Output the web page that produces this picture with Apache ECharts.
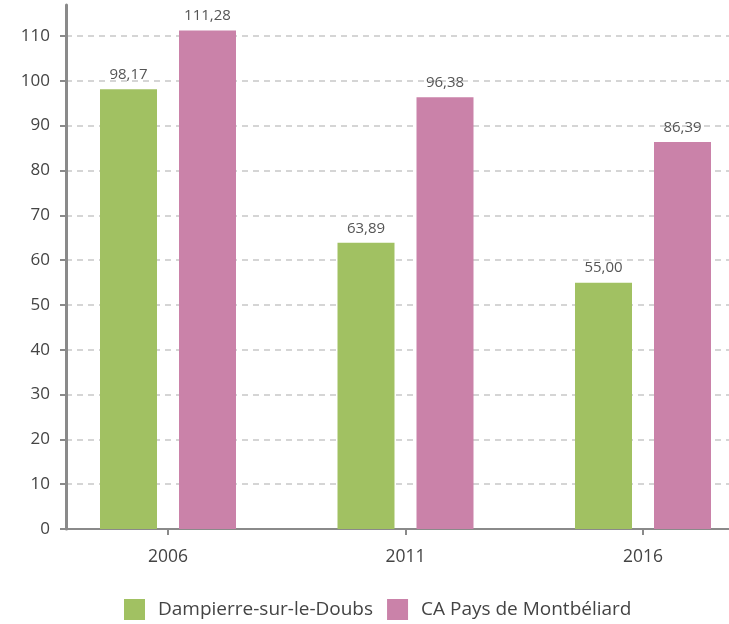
<!DOCTYPE html>
<html>
<head>
<meta charset="utf-8">
<script src="https://cdn.jsdelivr.net/npm/echarts@6/dist/echarts.min.js"></script>
<style>
  html, body { margin: 0; padding: 0; background: #fff; }
  #main { width: 729px; height: 624px; }
</style>
</head>
<body>
<div id="main"></div>
<script>
var years = ['2006', '2011', '2016'];
var seriesNames = ['Dampierre-sur-le-Doubs', 'CA Pays de Montbéliard'];
var dampierre = [98.17, 63.89, 55.00];
var caPays = [111.28, 96.38, 86.39];
var colors = ['#a1c162', '#ca82a9'];

var chartDom = document.getElementById('main');
var myChart = echarts.init(chartDom);
var option;

function frNum(p) {
  return p.value.toFixed(2).replace('.', ',');
}

var labelStyle = {
  show: true,
  position: 'top',
  distance: 7,
  fontFamily: 'Open Sans',
  fontSize: 15,
  color: '#555',
  formatter: frNum
};

option = {
  textStyle: { fontFamily: 'Open Sans' },
  animation: false,
  legend: {
    data: seriesNames,
    top: 599,
    left: 124,
    padding: 0,
    icon: 'rect',
    itemWidth: 21,
    itemHeight: 21,
    itemGap: 14,
    textStyle: { fontSize: 19, color: '#444', fontFamily: 'Open Sans', padding: [0, 0, 0, 8] }
  },
  grid: [
    // grid for the bars
    { left: 49.25, top: 5, width: 712.5, bottom: 95, outerBoundsMode: 'none', containLabel: false },
    // grid for the value scale / gridlines
    { left: 66, top: 36, right: 0, bottom: 95, outerBoundsMode: 'none', containLabel: false }
  ],
  xAxis: [
    {
      type: 'category',
      gridIndex: 0,
      data: years,
      axisLine: { show: false },
      axisTick: { show: true, alignWithLabel: true, length: 6, lineStyle: { color: '#8a8a8a', width: 2 } },
      axisLabel: { fontSize: 17.5, color: '#444', margin: 19 }
    },
    {
      type: 'category',
      gridIndex: 1,
      data: [''],
      axisLine: { show: true, lineStyle: { color: '#8a8a8a', width: 2 } },
      axisTick: { show: false },
      axisLabel: { show: false }
    }
  ],
  yAxis: [
    {
      type: 'value',
      gridIndex: 0,
      min: 0,
      max: 117,
      offset: -17,
      axisLine: { show: true, lineStyle: { color: '#8a8a8a', width: 3 } },
      axisTick: { show: false },
      axisLabel: { show: false },
      splitLine: { show: false }
    },
    {
      type: 'value',
      gridIndex: 1,
      min: 0,
      max: 110,
      interval: 10,
      axisLine: { show: false },
      axisTick: { show: true, length: 6, lineStyle: { color: '#8a8a8a', width: 2 } },
      axisLabel: { fontSize: 17, color: '#444', margin: 16 },
      splitLine: { show: true, lineStyle: { color: '#c8c8c8', type: [6, 5], width: 1.5 } }
    }
  ],
  series: [
    {
      name: seriesNames[0],
      type: 'bar',
      xAxisIndex: 0,
      yAxisIndex: 0,
      data: dampierre,
      barWidth: 57,
      barGap: '38.6%',
      itemStyle: { color: colors[0] },
      label: labelStyle
    },
    {
      name: seriesNames[1],
      type: 'bar',
      xAxisIndex: 0,
      yAxisIndex: 0,
      data: caPays,
      barWidth: 57,
      barGap: '38.6%',
      itemStyle: { color: colors[1] },
      label: labelStyle
    }
  ]
};

option && myChart.setOption(option);
</script>
</body>
</html>
